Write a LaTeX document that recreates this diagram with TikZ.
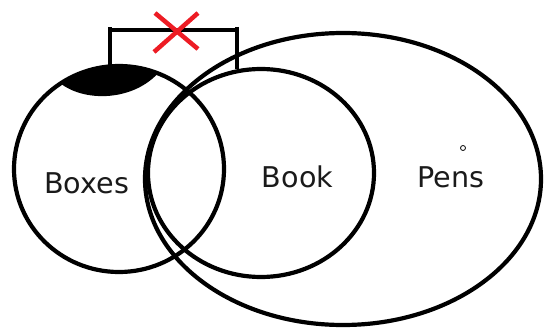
\documentclass[tikz,border=0pt]{standalone}
\usepackage{fontspec}
\setmainfont{DejaVu Sans}
\usetikzlibrary{shapes.geometric}
\definecolor{paintred}{HTML}{ED1C24}
\definecolor{txt}{HTML}{1A1A1A}
\begin{document}
\begin{tikzpicture}[x=1pt,y=-1pt,
  setline/.style={draw=black,line width=4.2pt,ellipse,inner sep=0pt,outer sep=0pt},
  label/.style={font=\fontsize{28.6}{28.6}\selectfont,text=txt,inner sep=0pt,anchor=base}]
\useasboundingbox (0,0) rectangle (546,329);
% sets
\node[setline,minimum width=210pt,minimum height=206pt] (boxes) at (119,169) {};
\node[setline,minimum width=226pt,minimum height=208pt] (book) at (261,173) {};
\node[setline,minimum width=396pt,minimum height=292pt] (pens) at (343,179) {};
% filled cap on top of Boxes
\begin{scope}
  \clip (119,169) ellipse [x radius=105, y radius=103];
  \fill[black] (60,83) .. controls (85,103) and (135,101) .. (160,71) -- (160,40) -- (60,40) -- cycle;
\end{scope}
% bracket between Boxes and Book
\coordinate (bl) at (110,68);
\coordinate (br) at (237,69);
\draw[line width=4pt] (bl) -- (110,27) (110,30) -- (237,30) (237,27) -- (br);
% red cross
\draw[paintred,line width=4.5pt] (155,13) -- (198,49) (198,13) -- (154,52);
% small circle
\node[draw=black,line width=0.8pt,circle,minimum size=5pt,inner sep=0pt] (dot) at (463,148) {};
% labels
\node[label] (tboxes) at (86.5,193) {Boxes};
\node[label] (tbook) at (297.5,187) {Book};
\node[label] (tpens) at (451,187) {Pens};
\end{tikzpicture}
\end{document}
